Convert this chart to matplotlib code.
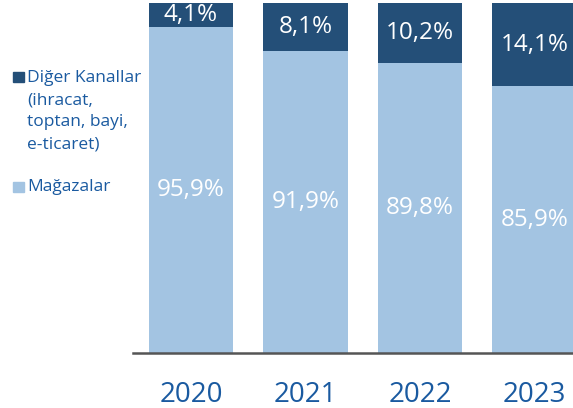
import matplotlib.pyplot as plt
from matplotlib.patches import Rectangle

years = ["2020", "2021", "2022", "2023"]
magaza = [95.9, 91.9, 89.8, 85.9]
diger = [4.1, 8.1, 10.2, 14.1]
magaza_lbl = ["95,9%", "91,9%", "89,8%", "85,9%"]
diger_lbl = ["4,1%", "8,1%", "10,2%", "14,1%"]
legend_lbl = ["Diğer Kanallar\n(ihracat,\ntoptan, bayi,\ne-ticaret)", "Mağazalar"]

dark = "#244f78"
light = "#a3c4e2"
blue_txt = "#1a5aa0"

plt.rcParams['font.family'] = ['Open Sans', 'DejaVu Sans']

fig = plt.figure(figsize=(5.73, 4.08), dpi=100)
ax = fig.add_axes([133/573, 0.1336, 1 - 133/573, 0.858])

x = list(range(len(years)))
ax.bar(x, magaza, width=0.74, color=light)
ax.bar(x, diger, width=0.74, bottom=magaza, color=dark)

ymin = 40
ax.set_ylim(ymin, 100)
ax.set_xlim(-0.507, 3.336)

for i in x:
    ax.text(i, (ymin + magaza[i]) / 2, magaza_lbl[i], ha='center', va='center',
            color='white', fontsize=17.5)
    ax.text(i, magaza[i] + diger[i] / 2, diger_lbl[i], ha='center', va='center',
            color='white', fontsize=17.5)

for sp in ['top', 'right', 'left']:
    ax.spines[sp].set_visible(False)
ax.spines['bottom'].set_color('#555555')
ax.spines['bottom'].set_linewidth(1.8)
ax.set_yticks([])
ax.set_xticks(x)
ax.set_xticklabels(years, fontsize=20, color=blue_txt)
ax.tick_params(axis='x', length=0, pad=20)

# legend
fig.patches.append(Rectangle((13/573, 1 - 82/408), 11/573, 10/408,
                             transform=fig.transFigure, color=dark))
fig.patches.append(Rectangle((13/573, 1 - 192/408), 11/573, 10/408,
                             transform=fig.transFigure, color=light))
fig.text(27/573, 1 - 70/408, legend_lbl[0], ha='left', va='top',
         fontsize=12.5, color=blue_txt, linespacing=1.52)
fig.text(27/573, 1 - 187/408, legend_lbl[1], ha='left', va='center',
         fontsize=12.5, color=blue_txt)

fig.savefig("out.png", dpi=100)
